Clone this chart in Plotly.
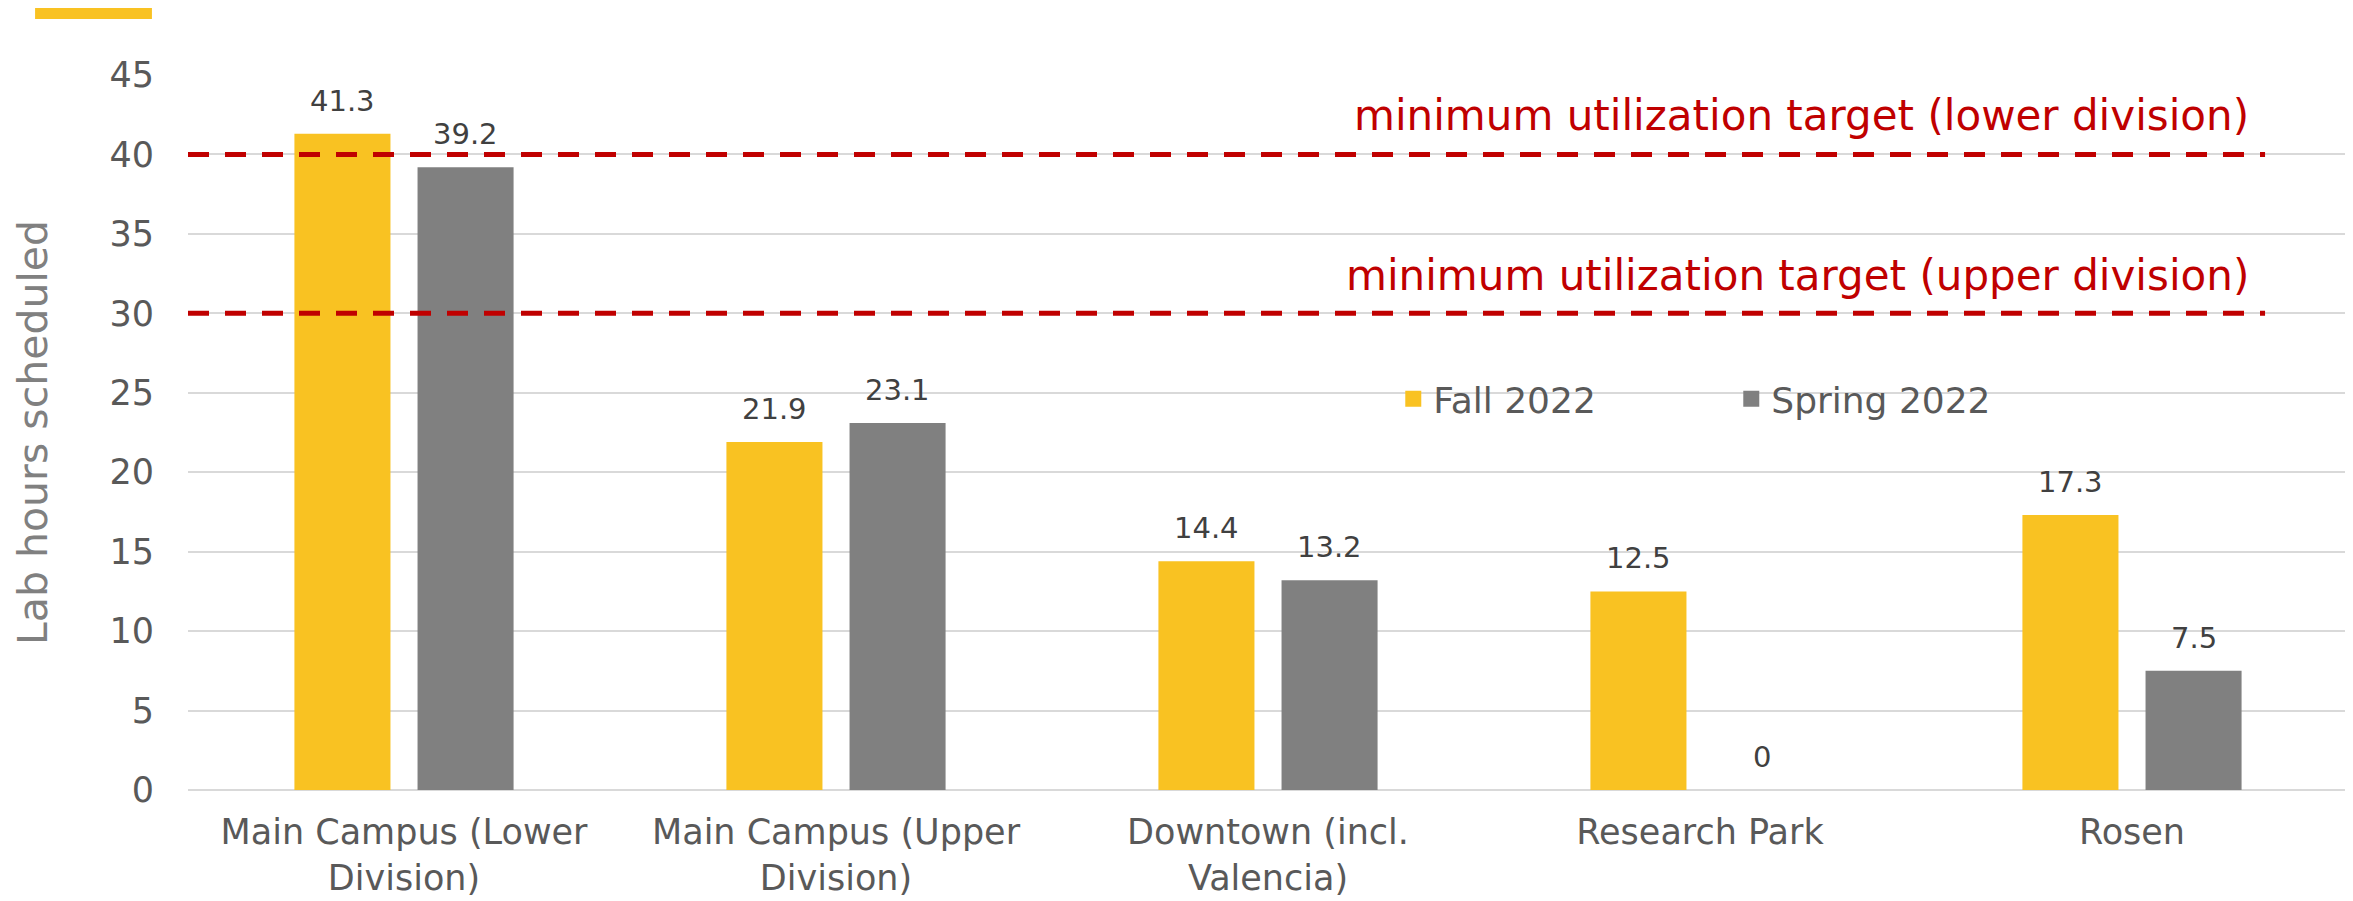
import plotly.graph_objects as go

categories = ["Main Campus (Lower<br>Division)", "Main Campus (Upper<br>Division)",
              "Downtown (incl.<br>Valencia)", "Research Park", "Rosen"]
fall_2022 = [41.3, 21.9, 14.4, 12.5, 17.3]
spring_2022 = [39.2, 23.1, 13.2, 0, 7.5]
series_names = ["Fall 2022", "Spring 2022"]
target_lower = 40
target_upper = 30
target_labels = ["minimum utilization target (lower division)",
                 "minimum utilization target (upper division)"]
y_ticks = [0, 5, 10, 15, 20, 25, 30, 35, 40, 45]

FONT = "DejaVu Sans"
YELLOW = "#F9C222"
GRAY = "#808080"
RED = "#C00000"

fig = go.Figure()
series = [(series_names[0], fall_2022, YELLOW, -61.5), (series_names[1], spring_2022, GRAY, 61.5)]
for name, vals, col, shift in series:
    fig.add_trace(go.Bar(
        x=categories, y=vals, name=name, marker=dict(color=col, line=dict(width=0)),
        showlegend=False, hoverinfo="x+y",
    ))
    # legend proxy with a larger swatch
    fig.add_trace(go.Scatter(
        x=[None], y=[None], mode="markers", name=name,
        marker=dict(symbol="square", size=19, color=col), showlegend=True,
    ))
    for c, v in zip(categories, vals):
        fig.add_annotation(x=c, y=v, text=f"{v:g}", showarrow=False, xref="x", yref="y",
                           xanchor="center", yanchor="bottom", xshift=shift, yshift=14,
                           font=dict(family=FONT, size=29, color="#404040"))

# dashed target lines
for t in (target_lower, target_upper):
    fig.add_shape(type="line", xref="paper", yref="y", x0=0, x1=0.9616, y0=t, y1=t,
                  line=dict(color=RED, width=5, dash="21px,16px"), layer="above")

fig.add_annotation(text=target_labels[0], xref="paper", yref="y", x=0.955, y=42.45,
                   xanchor="right", yanchor="middle", showarrow=False,
                   font=dict(family=FONT, size=42, color=RED))
fig.add_annotation(text=target_labels[1], xref="paper", yref="y", x=0.955, y=32.35,
                   xanchor="right", yanchor="middle", showarrow=False,
                   font=dict(family=FONT, size=42, color=RED))

# white box behind legend hiding the gridline
fig.add_shape(type="rect", xref="paper", yref="paper", x0=0.503, x1=0.893, y0=0.50, y1=0.59,
              fillcolor="white", line=dict(width=0), layer="between")

# decorative accent bar at top-left
fig.add_shape(type="rect", xref="paper", yref="paper", x0=-0.0708, x1=-0.0167, y0=1.0783, y1=1.0951,
              fillcolor=YELLOW, line=dict(width=0))

# page body adds an 8px offset; figure is sized to fill the window exactly
fig.update_layout(
    width=2345, height=893,
    margin=dict(l=180, r=5, t=67, b=111, autoexpand=False),
    paper_bgcolor="white", plot_bgcolor="white",
    barmode="group", bargap=0.43, bargroupgap=0.22,
    font=dict(family=FONT, color="#595959"),
    showlegend=True,
    legend=dict(orientation="h", x=0.558, y=0.547, xanchor="left", yanchor="middle",
                bgcolor="rgba(0,0,0,0)", font=dict(family=FONT, size=36, color="#595959"),
                entrywidth=293, entrywidthmode="pixels", itemwidth=30),
    xaxis=dict(showgrid=False, showline=False, zeroline=False, ticks="", automargin=False,
               tickfont=dict(family=FONT, size=35, color="#595959"), ticklabelstandoff=18),
    yaxis=dict(range=[0, 45], tickvals=y_ticks, showgrid=True, gridcolor="#D9D9D9", gridwidth=2,
               zeroline=True, zerolinecolor="#D9D9D9", zerolinewidth=2, showline=False, ticks="",
               automargin=False,
               tickfont=dict(family=FONT, size=35, color="#595959"), ticklabelstandoff=33,
               title=dict(text="Lab hours scheduled", font=dict(family=FONT, size=41, color="#808080"),
                          standoff=49)),
)

fig.write_html("out.html")
